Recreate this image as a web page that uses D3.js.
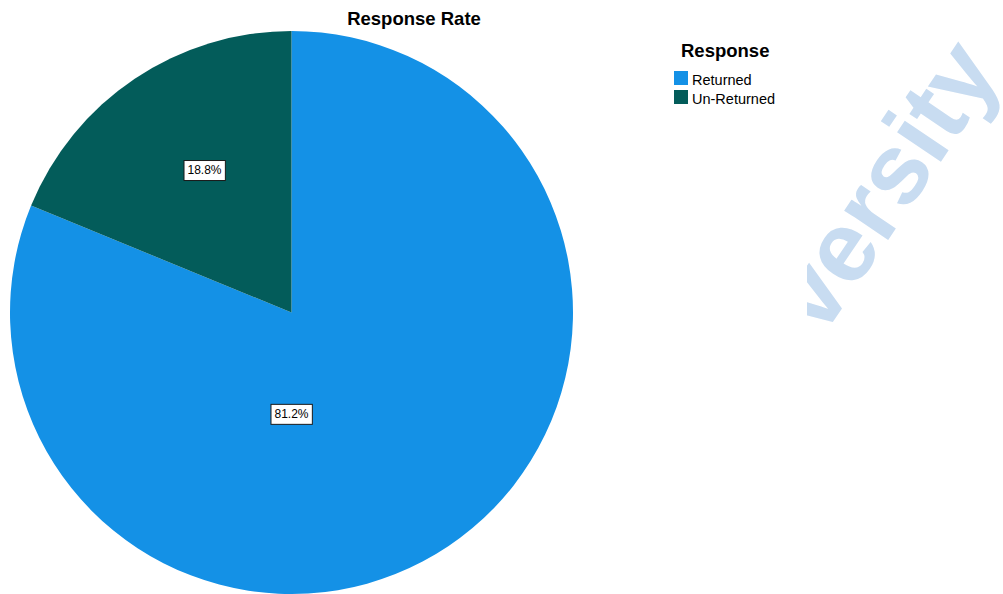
<!DOCTYPE html>
<html>
<head>
<meta charset="utf-8">
<script src="https://cdn.jsdelivr.net/npm/d3@7"></script>
<style>
  html, body { margin: 0; padding: 0; background: #fff; }
  svg { display: block; }
</style>
</head>
<body>
<svg id="chart" width="1003" height="594"></svg>
<script>
// Survey response data
const categories = ["Returned", "Un-Returned"];
const percentages = [81.2, 18.8];
const colors = ["#1491e6", "#035c5a"];
const chartTitle = "Response Rate";
const legendTitle = "Response";

const svg = d3.select("#chart");
const W = 1003, H = 594;

// Background watermark text, clipped on its left side
svg.append("clipPath").attr("id", "wmClip")
  .append("rect").attr("x", 807).attr("y", 0).attr("width", W - 807).attr("height", H);

svg.append("g").attr("clip-path", "url(#wmClip)")
  .append("text")
  .attr("transform", "translate(822,338) rotate(-56)")
  .attr("font-family", "'Liberation Sans', Arial, sans-serif")
  .attr("font-weight", "bold")
  .attr("font-size", 100)
  .attr("fill", "#c8dcf1")
  .text("versity");

// Pie geometry
const cx = 291.5, cy = 312.5, R = 281.5;

const pie = d3.pie()
  .sort(null)
  .value(d => d.value)
  .startAngle(0)
  .endAngle(2 * Math.PI);

const data = categories.map((c, i) => ({ name: c, value: percentages[i], color: colors[i] }));
const arcs = pie(data);
const arc = d3.arc().innerRadius(0).outerRadius(R);

const g = svg.append("g").attr("transform", `translate(${cx},${cy})`);

g.selectAll("path.slice")
  .data(arcs)
  .join("path")
  .attr("class", "slice")
  .attr("d", arc)
  .attr("fill", d => d.data.color);

// Percentage labels in boxes; placement given as polar offsets from the pie centre
const labelPlacement = {
  "Returned":    { angleDeg: 180,   frac: 0.36 },
  "Un-Returned": { angleDeg: -31.4, frac: 0.593 }
};
const fmt = d => d3.format(".1f")(d) + "%";

arcs.forEach(a => {
  const p = labelPlacement[a.data.name];
  const ang = p.angleDeg * Math.PI / 180;
  const x = Math.sin(ang) * R * p.frac;
  const y = -Math.cos(ang) * R * p.frac;
  const lg = g.append("g").attr("transform", `translate(${x},${y})`);
  const t = lg.append("text")
    .attr("text-anchor", "middle")
    .attr("dy", "0.36em")
    .attr("font-family", "'Liberation Sans', Arial, sans-serif")
    .attr("font-size", 12)
    .attr("fill", "#000")
    .text(fmt(a.data.value));
  const bb = t.node().getBBox();
  lg.insert("rect", "text")
    .attr("x", bb.x - 3.5)
    .attr("y", -9.5)
    .attr("width", bb.width + 7)
    .attr("height", 20)
    .attr("fill", "#fff")
    .attr("stroke", "#1a1a1a")
    .attr("stroke-width", 1);
});

// Title
svg.append("text")
  .attr("x", 414)
  .attr("y", 25)
  .attr("text-anchor", "middle")
  .attr("font-family", "'Liberation Sans', Arial, sans-serif")
  .attr("font-weight", "bold")
  .attr("font-size", 18.5)
  .attr("fill", "#000")
  .text(chartTitle);

// Legend
const legend = svg.append("g").attr("transform", "translate(681,0)");
legend.append("text")
  .attr("x", 0)
  .attr("y", 57)
  .attr("font-family", "'Liberation Sans', Arial, sans-serif")
  .attr("font-weight", "bold")
  .attr("font-size", 18.5)
  .attr("fill", "#000")
  .text(legendTitle);

const items = legend.selectAll("g.item")
  .data(data)
  .join("g")
  .attr("class", "item")
  .attr("transform", (d, i) => `translate(-7,${71 + i * 19})`);

items.append("rect")
  .attr("width", 14)
  .attr("height", 14)
  .attr("fill", d => d.color);

items.append("text")
  .attr("x", 18)
  .attr("y", 13.5)
  .attr("font-family", "'Liberation Sans', Arial, sans-serif")
  .attr("font-size", 14.5)
  .attr("fill", "#000")
  .text(d => d.name);
</script>
</body>
</html>
